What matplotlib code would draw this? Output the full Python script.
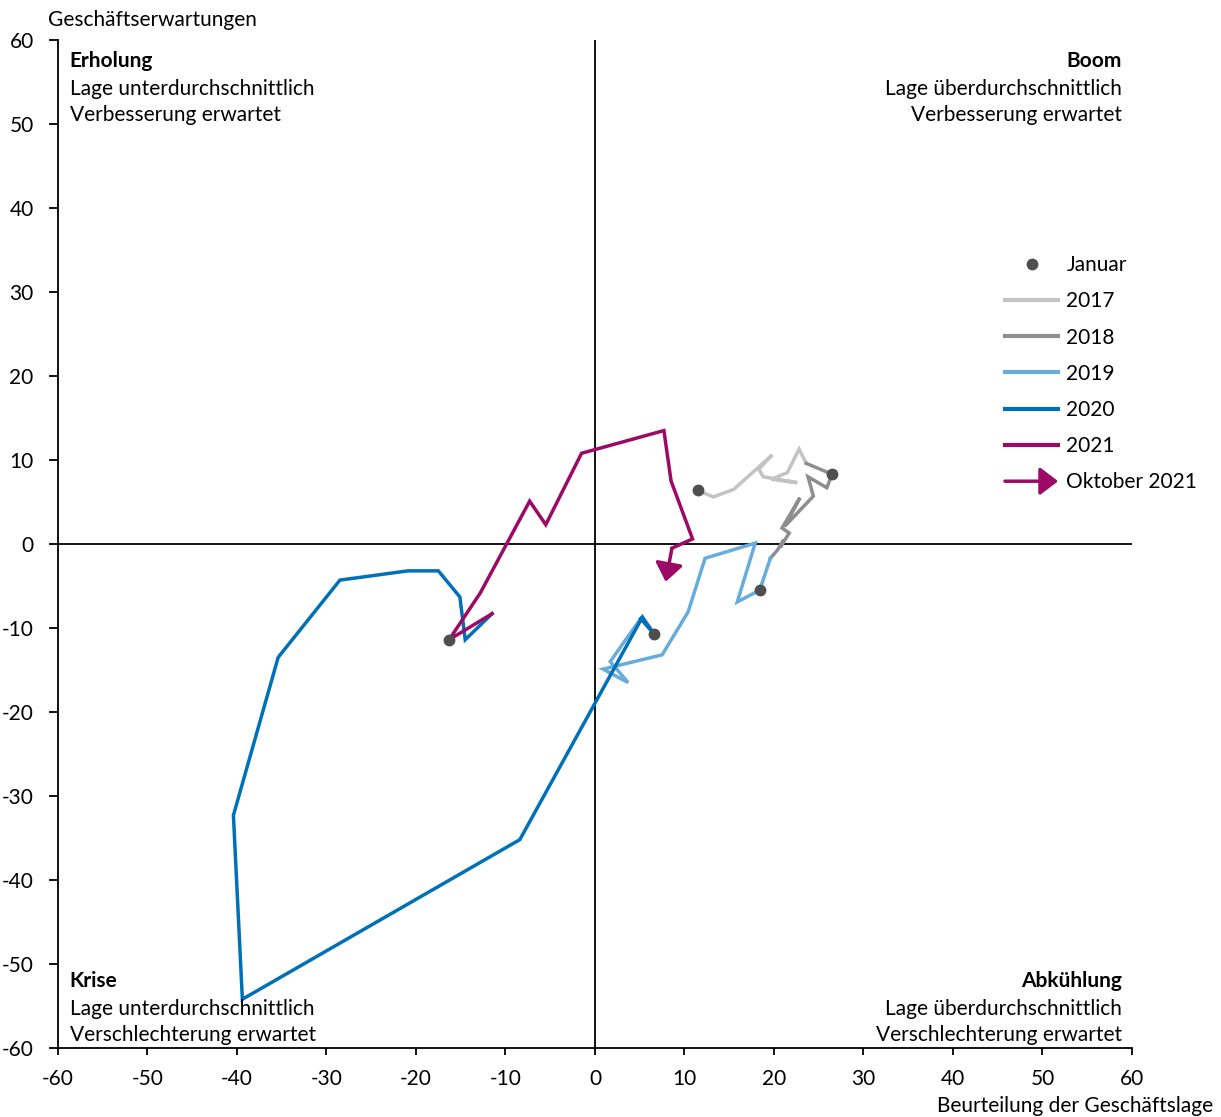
import matplotlib
matplotlib.use('Agg')
import matplotlib.pyplot as plt
from matplotlib.lines import Line2D
from matplotlib.patches import FancyArrowPatch
from matplotlib.legend_handler import HandlerPatch

plt.rcParams['font.family'] = ['Lato', 'DejaVu Sans']
plt.rcParams['font.size'] = 15
plt.rcParams['axes.unicode_minus'] = False

# Beurteilung der Geschaeftslage (x) / Geschaeftserwartungen (y)
# each year's line starts at the previous December
x2017 = [11.5, 13.2, 15.5, 19.8, 18.3, 18.8, 22.6, 19.7, 21.5, 22.8, 23.6]
y2017 = [6.4, 5.6, 6.5, 10.6, 8.9, 8.0, 7.3, 7.7, 8.5, 11.3, 9.6]

x2018 = [23.6, 26.5, 25.9, 23.8, 24.4, 21.2, 22.9, 20.9, 21.7, 20.7, 21.1, 20.4, 19.6]
y2018 = [9.6, 8.3, 6.7, 8.0, 5.7, 2.1, 5.5, 1.9, 1.3, -0.4, 0.5, -0.7, -1.7]

x2019 = [19.6, 18.4, 15.9, 17.9, 12.3, 10.4, 7.5, 0.9, 3.7, 1.7, 5.1]
y2019 = [-1.7, -5.5, -6.9, 0.1, -1.7, -8.1, -13.2, -14.9, -16.5, -14.0, -8.9]

x2020 = [5.1, 6.6, 5.3, -8.4, -39.4, -40.4, -35.4, -28.5, -20.9, -17.5, -15.1, -14.5, -11.5]
y2020 = [-8.9, -10.7, -8.7, -35.2, -54.2, -32.3, -13.5, -4.3, -3.2, -3.2, -6.3, -11.4, -8.3]

x2021 = [-11.5, -16.3, -12.8, -7.3, -5.5, -1.5, 7.7, 8.5, 10.9, 8.6, 7.9]
y2021 = [-8.3, -11.4, -5.8, 5.1, 2.3, 10.8, 13.5, 7.5, 0.6, -0.5, -4.5]

jan_x = [11.5, 26.5, 18.4, 6.6, -16.3]
jan_y = [6.4, 8.3, -5.5, -10.7, -11.4]

years = ['2017', '2018', '2019', '2020', '2021']
colors = ['#c3c3c3', '#8e8e8e', '#67acdb', '#0071b9', '#9b0a66']
dot_color = '#4f4f4f'
arrow_style = '-|>,head_length=0.55,head_width=0.42'

fig = plt.figure(figsize=(12.21, 11.17), dpi=100)
ax = fig.add_axes([0.0475, 0.0618, 0.8796, 0.9024])

series = [(x2017, y2017), (x2018, y2018), (x2019, y2019), (x2020, y2020)]
for (xs, ys), c in zip(series, colors[:4]):
    ax.plot(xs, ys, color=c, lw=2.5, solid_joinstyle='miter', zorder=3)

# 2021 bis September als Linie, letzter Monat als Pfeil
ax.plot(x2021[:-1], y2021[:-1], color=colors[4], lw=2.5, solid_joinstyle='miter', zorder=4)
ax.annotate('', xy=(x2021[-1], y2021[-1]), xytext=(x2021[-2], y2021[-2]),
            arrowprops=dict(arrowstyle=arrow_style, color=colors[4],
                            lw=2.5, shrinkA=0, shrinkB=0, mutation_scale=20), zorder=4)

ax.plot(jan_x, jan_y, 'o', color=dot_color, ms=7.5, zorder=5)

ax.axhline(0, color='black', lw=1.3, zorder=2)
ax.axvline(0, color='black', lw=1.3, zorder=2)

ax.set_xlim(-60, 60)
ax.set_ylim(-60, 60)
ax.set_xticks(range(-60, 61, 10))
ax.set_yticks(range(-60, 61, 10))
ax.spines['top'].set_visible(False)
ax.spines['right'].set_visible(False)
ax.spines['left'].set_linewidth(1.3)
ax.spines['bottom'].set_linewidth(1.3)
ax.tick_params(axis='y', direction='out', length=6.5, width=1.3, pad=11)
ax.tick_params(axis='x', direction='out', length=5, width=1.3, pad=10)

# Quadranten
ax.text(-58.7, 57.5, 'Erholung', fontweight='bold', va='center', ha='left')
ax.text(-58.7, 54.2, 'Lage unterdurchschnittlich', va='center', ha='left')
ax.text(-58.7, 51.1, 'Verbesserung erwartet', va='center', ha='left')
ax.text(58.9, 57.5, 'Boom', fontweight='bold', va='center', ha='right')
ax.text(58.9, 54.2, 'Lage überdurchschnittlich', va='center', ha='right')
ax.text(58.9, 51.1, 'Verbesserung erwartet', va='center', ha='right')
ax.text(-58.7, -52.0, 'Krise', fontweight='bold', va='center', ha='left')
ax.text(-58.7, -55.4, 'Lage unterdurchschnittlich', va='center', ha='left')
ax.text(-58.7, -58.5, 'Verschlechterung erwartet', va='center', ha='left')
ax.text(58.9, -52.0, 'Abkühlung', fontweight='bold', va='center', ha='right')
ax.text(58.9, -55.4, 'Lage überdurchschnittlich', va='center', ha='right')
ax.text(58.9, -58.5, 'Verschlechterung erwartet', va='center', ha='right')

fig.text(48 / 1221, 1 - 20 / 1117, 'Geschäftserwartungen', ha='left', va='center')
fig.text(1213 / 1221, 1 - 1106 / 1117, 'Beurteilung der Geschäftslage', ha='right', va='center')


class HandlerArrow(HandlerPatch):
    def create_artists(self, legend, orig_handle, xdescent, ydescent, width, height, fontsize, trans):
        p = FancyArrowPatch((-xdescent, height / 2 - ydescent), (width - xdescent, height / 2 - ydescent),
                            arrowstyle=arrow_style, mutation_scale=20,
                            color=orig_handle.get_edgecolor(), lw=2.5, shrinkA=0, shrinkB=0)
        p.set_transform(trans)
        return [p]


handles = [Line2D([], [], ls='', marker='o', color=dot_color, ms=7.5)]
handles += [Line2D([], [], color=c, lw=3) for c in colors]
arrow_handle = FancyArrowPatch((0, 0), (1, 0), color=colors[4])
handles.append(arrow_handle)
labels = ['Januar'] + years + ['Oktober 2021']
ax.legend(handles, labels, loc='upper left', bbox_to_anchor=(1005 / 1221, 1 - 255 / 1117),
          bbox_transform=fig.transFigure, frameon=False, borderpad=0, borderaxespad=0,
          handlelength=2.55, handletextpad=0.4, labelspacing=0.78,
          handler_map={FancyArrowPatch: HandlerArrow()})

fig.savefig('out.png', dpi=100)
